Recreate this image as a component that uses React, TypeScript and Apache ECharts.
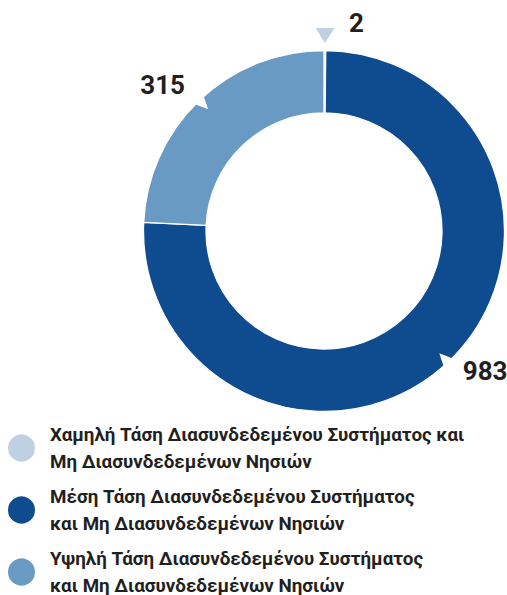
import React, { useEffect, useRef } from "react";
import * as echarts from "echarts";

const CATEGORIES = [
  "Χαμηλή Τάση Διασυνδεδεμένου Συστήματος και Μη Διασυνδεδεμένων Νησιών",
  "Μέση Τάση Διασυνδεδεμένου Συστήματος και Μη Διασυνδεδεμένων Νησιών",
  "Υψηλή Τάση Διασυνδεδεμένου Συστήματος και Μη Διασυνδεδεμένων Νησιών",
];
const VALUES = [2, 983, 315];
const LEGEND_LINES = [
  ["Χαμηλή Τάση Διασυνδεδεμένου Συστήματος και", "Μη Διασυνδεδεμένων Νησιών"],
  ["Μέση Τάση Διασυνδεδεμένου Συστήματος", "και Μη Διασυνδεδεμένων Νησιών"],
  ["Υψηλή Τάση Διασυνδεδεμένου Συστήματος", "και Μη Διασυνδεδεμένων Νησιών"],
];
const COLORS = ["#c0d0e3", "#0f4c8f", "#689ac3"];

export default function App() {
  const ref = useRef<HTMLDivElement>(null);
  useEffect(() => {
    if (!ref.current) return;
    const chart = echarts.init(ref.current, undefined, { renderer: "svg" });
    const cx = 324;
    const cy = 231;
    const r0 = 118;
    const r = 180.5;
    // label placement: [labelLine length, length2, distance]
    const placement = [
      [28, 19, 5],
      [11.5, 2, 5],
      [21, 0, 0],
    ];
    const total = VALUES.reduce((a, b) => a + b, 0);
    let cum = 0;
    const graphics: any[] = [];
    VALUES.forEach((v, i) => {
      const th = ((cum + v / 2) / total) * Math.PI * 2;
      cum += v;
      const dx = Math.sin(th);
      const dy = -Math.cos(th);
      const px = -dy;
      const py = dx;
      const pt = (rad: number, off: number) => [cx + dx * rad + px * off, cy + dy * rad + py * off];
      const small = (v / total) * 360 < 5;
      if (small) {
        graphics.push({
          type: "polygon",
          z: 100,
          shape: { points: [pt(203, -9.5), pt(203, 9.5), pt(188, 0)] },
          style: { fill: COLORS[i] },
        });
      } else {
        graphics.push({
          type: "polygon",
          z: 100,
          shape: { points: [pt(183, -7), pt(183, 7), pt(168, 0)] },
          style: { fill: "#ffffff" },
        });
      }
    });
    const option: any = {
      animation: false,
      legend: {
        orient: "vertical",
        left: 6,
        top: 421,
        height: 300,
        padding: 0,
        itemWidth: 29,
        itemHeight: 29,
        itemGap: 8,
        icon: "circle",
        selectedMode: false,
        data: CATEGORIES,
        formatter: (name: string) => LEGEND_LINES[CATEGORIES.indexOf(name)].join("\n"),
        textStyle: {
          fontFamily: "Roboto",
          fontWeight: "bold",
          fontSize: 18.8,
          lineHeight: 27,
          color: "#231f20",
          padding: [0, 0, 0, 9],
        },
      },
      graphic: graphics,
      series: [
        {
          type: "pie",
          center: [cx, cy],
          radius: [r0, r],
          startAngle: 90,
          clockwise: true,
          avoidLabelOverlap: false,
          silent: true,
          itemStyle: { borderColor: "#ffffff", borderWidth: 1.3 },
          label: {
            show: true,
            position: "outside",
            formatter: "{c}",
            fontFamily: "Roboto",
            fontWeight: "bold",
            fontSize: 26,
            color: "#231f20",
          },
          labelLine: { show: false },
          data: CATEGORIES.map((name, i) => ({
            name,
            value: VALUES[i],
            itemStyle: { color: COLORS[i] },
            label: { distanceToLabelLine: placement[i][2] },
            labelLine: { length: placement[i][0], length2: placement[i][1] },
          })),
        },
      ],
    };
    chart.setOption(option);
    return () => chart.dispose();
  }, []);
  return (
    <div
      ref={ref}
      style={{ position: "fixed", left: 0, top: 0, width: 507, height: 595, background: "#ffffff" }}
    />
  );
}
